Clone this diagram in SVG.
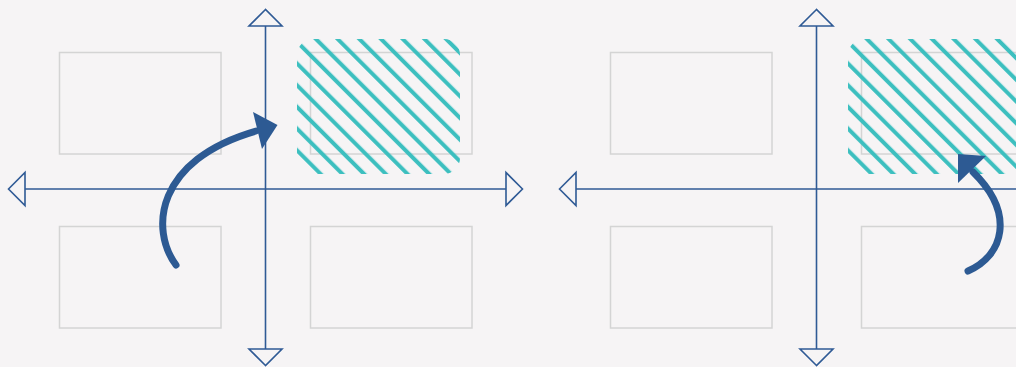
<svg xmlns="http://www.w3.org/2000/svg" width="1016" height="367" viewBox="0 0 1016 367">
  <style>
    .bg { fill: #f6f4f5; }
    .cell { fill: none; stroke: #d4d4d4; stroke-width: 1.5; }
    .axis { stroke: #2f5a95; stroke-width: 1.6; fill: none; }
    .tip { fill: #f6f4f5; stroke: #2f5a95; stroke-width: 1.6; stroke-linejoin: miter; }
    .move { fill: none; stroke: #2d5a93; stroke-width: 7; stroke-linecap: round; }
    .head { fill: #2d5a93; }
    .hatch { fill: url(#stripes); }
  </style>
  <defs>
    <pattern id="stripes" patternUnits="userSpaceOnUse" width="10" height="15.35" patternTransform="rotate(45)">
      <rect x="0" y="1.7" width="10" height="4" fill="#3cbfbf"/>
    </pattern>
  </defs>

  <rect class="bg" x="0" y="0" width="1016" height="367"/>

  <!-- left panel: shift into the upper-right quadrant -->
  <g id="panel-left">
    <g id="cells-left">
      <rect class="cell" x="59.5" y="52.5" width="161.5" height="101.5"/>
      <rect class="cell" x="310.5" y="52.5" width="161.5" height="101.5"/>
      <rect class="cell" x="59.5" y="226.5" width="161.5" height="101.5"/>
      <rect class="cell" x="310.5" y="226.5" width="161.5" height="101.5"/>
    </g>
    <g id="target-left">
      <rect class="hatch" x="297" y="39" width="163" height="135" rx="16"/>
    </g>
    <g id="axes-left">
      <line class="axis" x1="265.5" y1="26" x2="265.5" y2="349"/>
      <line class="axis" x1="25" y1="189" x2="506" y2="189"/>
      <polygon class="tip" points="265.5,9.5 249,26 282,26"/>
      <polygon class="tip" points="265.5,365.5 249,349 282,349"/>
      <polygon class="tip" points="8.5,189 25,172.5 25,205.5"/>
      <polygon class="tip" points="522.5,189 506,172.5 506,205.5"/>
    </g>
    <g id="connectors-left">
      <path class="move" d="M176,265 C150,230 155,160 256,131"/>
      <polygon class="head" points="277.5,125 253,112 262,149"/>
    </g>
  </g>

  <!-- right panel: same frame, shift into the lower-right quadrant -->
  <g id="panel-right" transform="translate(551,0)">
    <g id="cells-right">
      <rect class="cell" x="59.5" y="52.5" width="161.5" height="101.5"/>
      <rect class="cell" x="310.5" y="52.5" width="161.5" height="101.5"/>
      <rect class="cell" x="59.5" y="226.5" width="161.5" height="101.5"/>
      <rect class="cell" x="310.5" y="226.5" width="161.5" height="101.5"/>
    </g>
    <g id="target-right">
      <rect class="hatch" x="297" y="39" width="200" height="135" rx="16"/>
    </g>
    <g id="axes-right">
      <line class="axis" x1="265.5" y1="26" x2="265.5" y2="349"/>
      <line class="axis" x1="25" y1="189" x2="506" y2="189"/>
      <polygon class="tip" points="265.5,9.5 249,26 282,26"/>
      <polygon class="tip" points="265.5,365.5 249,349 282,349"/>
      <polygon class="tip" points="8.5,189 25,172.5 25,205.5"/>
    </g>
    <g id="connectors-right">
      <path class="move" d="M417,271 C452,256 465,214 422,172"/>
      <polygon class="head" points="407,154 407,183 435,156"/>
    </g>
  </g>
</svg>
